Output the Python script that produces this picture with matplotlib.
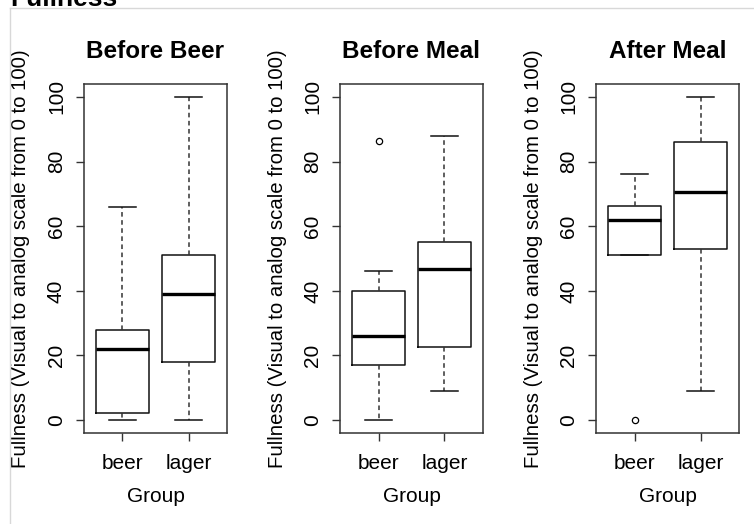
import matplotlib
matplotlib.use("Agg")
import matplotlib.pyplot as plt
from matplotlib.lines import Line2D

plt.rcParams['font.family'] = ['Liberation Sans', 'DejaVu Sans']

# ---- data ----
groups = ["beer", "lager"]
panel_titles = ["Before Beer", "Before Meal", "After Meal"]
whisker_low = [[0, 0], [0, 9], [51, 9]]
q1 = [[2.3, 18], [17, 22.7], [51, 53]]
median = [[22, 39], [26, 46.7], [62, 70.5]]
q3 = [[28, 51], [39.8, 55], [66.2, 86.2]]
whisker_high = [[66, 100], [46, 88], [76, 100]]
outliers = [[[], []], [[86.5], []], [[0], []]]
yticks = [0, 20, 40, 60, 80, 100]
ylabel = "Fullness (Visual to analog scale from 0 to 100)"
xlabel = "Group"
suptitle = "Fullness"

W, H = 754, 524
fig = plt.figure(figsize=(W / 100, H / 100), dpi=100)

axes_px = [(84, 227), (340.3, 482.7), (596.3, 739)]
top_px, bot_px = 84, 433

for i, (l, r) in enumerate(axes_px):
    ax = fig.add_axes([l / W, (H - bot_px) / H, (r - l) / W, (bot_px - top_px) / H])
    stats = []
    for j, g in enumerate(groups):
        stats.append(dict(whislo=whisker_low[i][j], q1=q1[i][j], med=median[i][j],
                          q3=q3[i][j], whishi=whisker_high[i][j],
                          fliers=outliers[i][j], label=g))
    ax.bxp(stats, positions=[1, 2], widths=0.8, capwidths=0.4,
           boxprops=dict(color='#111111', linewidth=1.1),
           whiskerprops=dict(color='#333333', linewidth=1.1, linestyle=(0, (3, 2.3))),
           capprops=dict(color='#111111', linewidth=1.1),
           medianprops=dict(color='black', linewidth=2.4),
           flierprops=dict(marker='o', markerfacecolor='white', markeredgecolor='black',
                           markersize=4.5, markeredgewidth=0.9))
    ax.set_xlim(0.42, 2.58)
    ax.set_ylim(-4, 104)
    ax.set_yticks(yticks)
    ax.set_yticklabels([str(v) for v in yticks], rotation=90, va='center')
    ax.set_xticks([1, 2])
    ax.set_xticklabels(groups)
    ax.tick_params(axis='both', direction='out', length=6, width=1, labelsize=15, color='#333333')
    ax.tick_params(axis='y', pad=7)
    ax.tick_params(axis='x', pad=9)
    for s in ax.spines.values():
        s.set_color('#333333')
        s.set_linewidth(1.1)
    ax.set_title(panel_titles[i], fontsize=17.5, fontweight='bold', pad=19)
    ax.set_ylabel(ylabel, fontsize=14.7, labelpad=12)
    ax.set_xlabel(xlabel, fontsize=15, labelpad=10)

fig.text(10 / W, 1 - 6 / H, suptitle, fontsize=19, fontweight='bold', va='baseline', ha='left')
fig.add_artist(Line2D([9.5 / W, 9.5 / W], [0, 1 - 8 / H], color='#d8d8d8', linewidth=1, transform=fig.transFigure))
fig.add_artist(Line2D([9.5 / W, 1], [1 - 8 / H, 1 - 8 / H], color='#d8d8d8', linewidth=1, transform=fig.transFigure))

fig.savefig("out.png", dpi=100)
